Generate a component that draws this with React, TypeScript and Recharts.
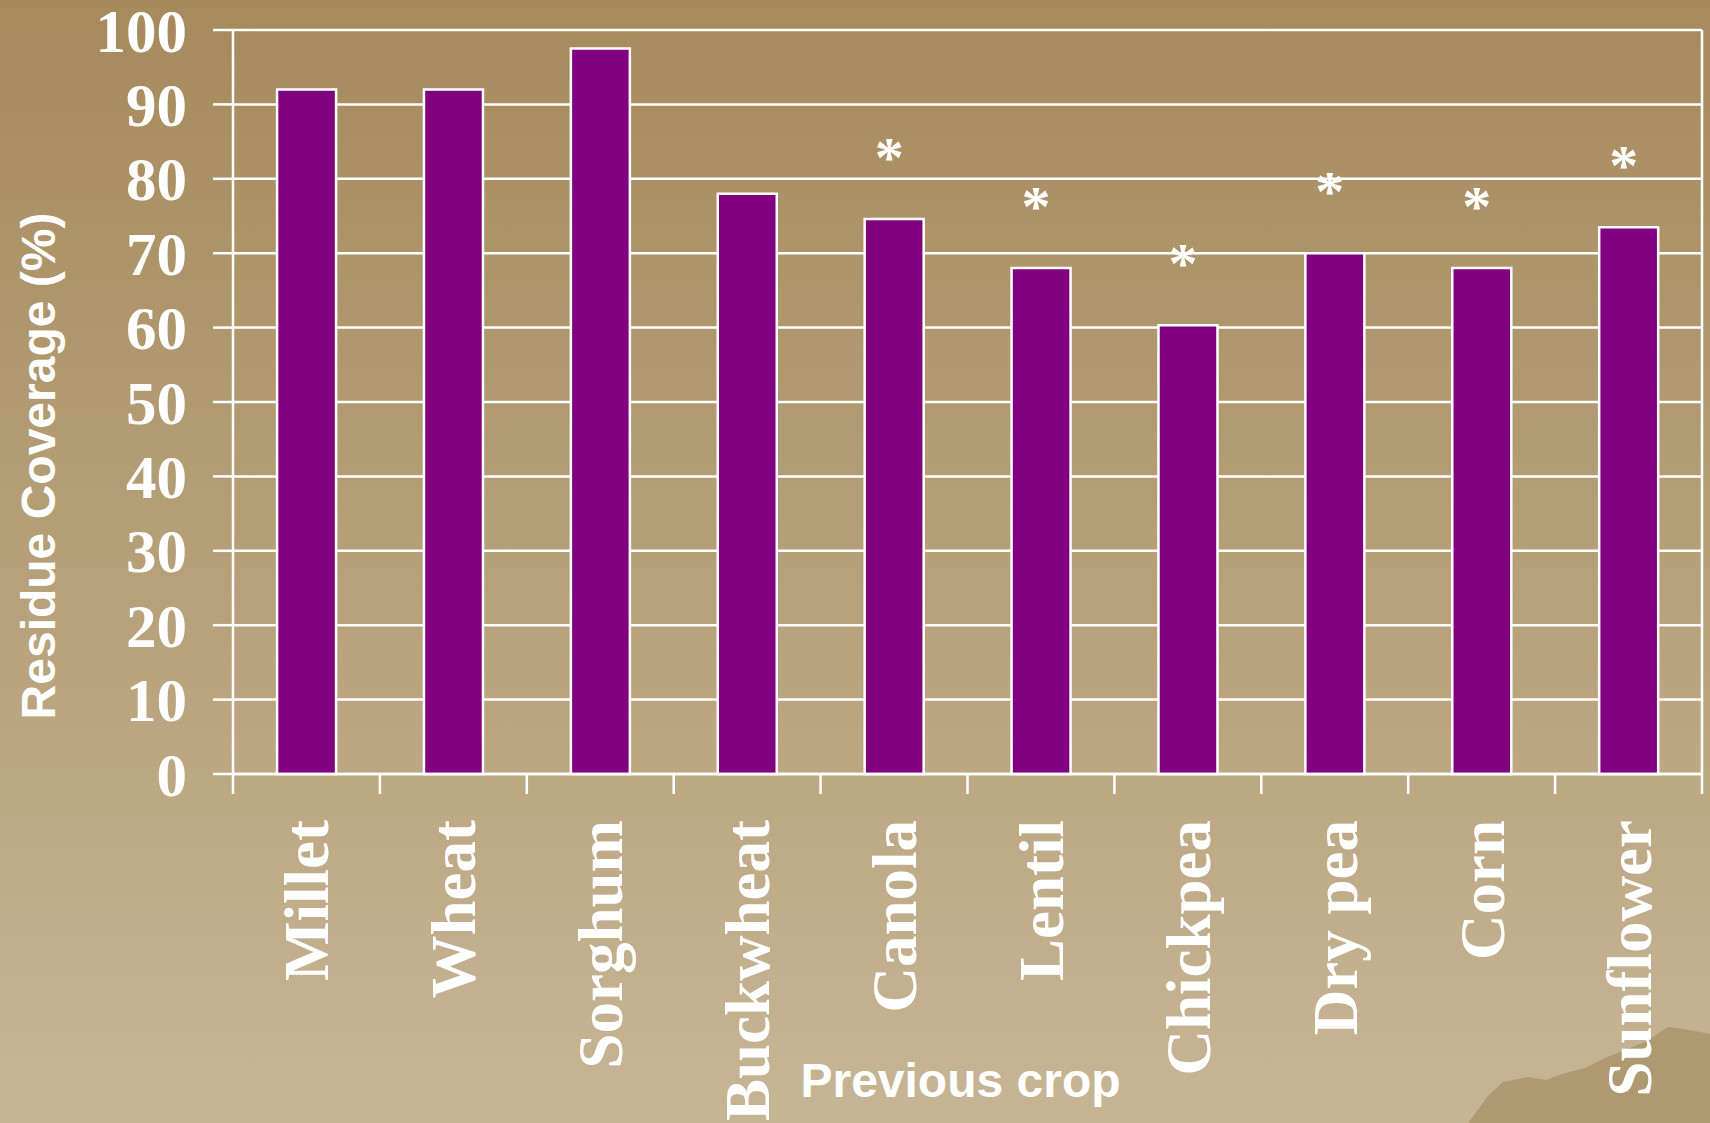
import React from 'react';
import { BarChart, Bar, XAxis, YAxis, CartesianGrid, LabelList, Label } from 'recharts';

const categories = ['Millet', 'Wheat', 'Sorghum', 'Buckwheat', 'Canola', 'Lentil', 'Chickpea', 'Dry pea', 'Corn', 'Sunflower'];
const coverage = [92, 92, 97.5, 78, 74.6, 68, 60.3, 70, 68, 73.5];
const significance = ['', '', '', '', '*', '*', '*', '*', '*', '*'];
const yTicks = [0, 10, 20, 30, 40, 50, 60, 70, 80, 90, 100];

const data = categories.map((crop, i) => ({ crop, coverage: coverage[i], sig: significance[i] }));

const SERIF = "'Liberation Serif', 'Times New Roman', serif";
const SANS = "'Liberation Sans', Arial, sans-serif";
const WHITE = '#ffffff';
const LINE_W = 2.5;

const XTick = (props: any) => {
  const { x, y, payload, index, visibleTicksCount, width } = props;
  const half = payload && payload.offset ? payload.offset : width / visibleTicksCount / 2;
  const last = index === visibleTicksCount - 1;
  return (
    <g>
      <line x1={x - half} x2={x - half} y1={y} y2={y + 20} stroke={WHITE} strokeWidth={LINE_W} />
      {last && <line x1={x + half} x2={x + half} y1={y} y2={y + 20} stroke={WHITE} strokeWidth={LINE_W} />}
      <text
        x={x}
        y={y + 46}
        transform={`rotate(-90, ${x}, ${y + 46})`}
        textAnchor="end"
        dy="0.35em"
        fill={WHITE}
        fontFamily={SERIF}
        fontWeight="bold"
        fontSize={63}
      >
        {payload.value}
      </text>
    </g>
  );
};

const renderStar = (props: any) => {
  const { x, y, width, value } = props;
  if (!value) return null;
  const cx = Number(x) + Number(width) / 2;
  return (
    <text x={cx - 5} y={Number(y) - 42} textAnchor="middle" fill={WHITE} fontFamily={SERIF} fontWeight="bold" fontSize={58}>
      {value}
    </text>
  );
};

const YTitle = (props: any) => {
  const vb = props.viewBox || { x: 0, y: 30, width: 233, height: 744 };
  const x = vb.x + 55;
  const y = vb.y + vb.height / 2 + 64;
  return (
    <text x={x} y={y} transform={`rotate(-90, ${x}, ${y})`} textAnchor="middle" fill={WHITE} fontFamily={SANS} fontWeight="bold" fontSize={48}>
      Residue Coverage (%)
    </text>
  );
};

const XTitle = (props: any) => {
  const vb = props.viewBox || { x: 233, y: 774, width: 1469, height: 349 };
  return (
    <text x={vb.x + vb.width / 2 - 7} y={vb.y + 323} textAnchor="middle" fill={WHITE} fontFamily={SANS} fontWeight="bold" fontSize={48}>
      Previous crop
    </text>
  );
};

const rightEdge = (p: any) => {
  const o = p && p.offset ? p.offset : { left: 233, width: 1469 };
  return [o.left + o.width];
};

export default function App() {
  return (
    <div
      style={{
        position: 'absolute',
        left: 0,
        top: 0,
        width: 1710,
        height: 1123,
        overflow: 'hidden',
        background: 'linear-gradient(to bottom, #A68A5C 0%, #B29C73 40%, #BDA884 70%, #C6B595 100%)',
      }}
    >
      <svg width={1710} height={1123} style={{ position: 'absolute', left: 0, top: 0 }}>
        <polygon
          points="1468,1123 1488,1096 1503,1082 1528,1077 1546,1080 1562,1074 1585,1068 1605,1058 1625,1050 1645,1042 1668,1027 1690,1030 1710,1034 1710,1123"
          fill="#AE9970"
        />
      </svg>
      <div style={{ position: 'absolute', left: 0, top: 0 }}>
        <BarChart
          width={1710}
          height={1123}
          data={data}
          margin={{ top: 30, right: 8, bottom: 0, left: 0 }}
          barCategoryGap="30%"
        >
          <CartesianGrid vertical={false} stroke={WHITE} strokeWidth={LINE_W} />
          <CartesianGrid horizontal={false} stroke={WHITE} strokeWidth={LINE_W} verticalCoordinatesGenerator={rightEdge} />
          <XAxis
            dataKey="crop"
            height={349}
            interval={0}
            tickLine={false}
            tickSize={0}
            tickMargin={0}
            axisLine={{ stroke: WHITE, strokeWidth: LINE_W }}
            tick={<XTick />}
          >
            <Label content={<XTitle />} />
          </XAxis>
          <YAxis
            width={233}
            domain={[0, 100]}
            ticks={yTicks}
            interval={0}
            tickSize={20}
            tickMargin={26}
            axisLine={{ stroke: WHITE, strokeWidth: LINE_W }}
            tickLine={{ stroke: WHITE, strokeWidth: LINE_W }}
            tick={{ fill: WHITE, fontFamily: SERIF, fontWeight: 'bold', fontSize: 61 }}
          >
            <Label content={<YTitle />} />
          </YAxis>
          <Bar
            dataKey="coverage"
            fill="#800080"
            stroke={WHITE}
            strokeWidth={LINE_W}
            isAnimationActive={false}
          >
            <LabelList dataKey="sig" content={renderStar} />
          </Bar>
        </BarChart>
      </div>
    </div>
  );
}
